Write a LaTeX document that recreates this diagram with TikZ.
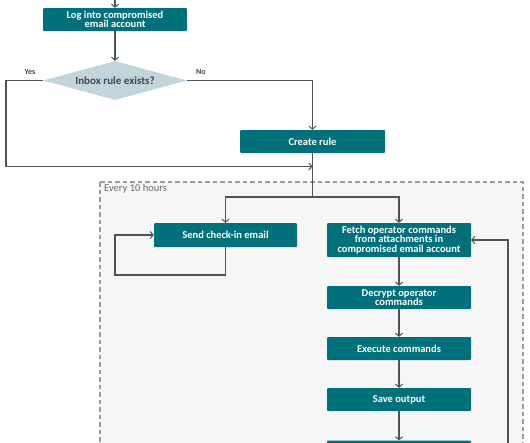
\documentclass[tikz,border=0pt]{standalone}
\usepackage{fontspec}
\setmainfont{Carlito}
\usetikzlibrary{arrows.meta,shapes.geometric}
\definecolor{teal1}{HTML}{00707A}
\definecolor{diafill}{HTML}{C3D5DC}
\definecolor{linec}{HTML}{4D5358}
\definecolor{dashc}{HTML}{9A9C9E}
\definecolor{bgc}{HTML}{F6F6F6}
\definecolor{txtc}{HTML}{3E474E}
\tikzset{
  stepbox/.style={draw=none, fill=teal1, rounded corners=1pt, text=white,
    font=\fontsize{10.5}{9.4}\selectfont\bfseries, align=center, inner sep=0pt,
    minimum width=144pt, minimum height=23pt},
  conn/.style={draw=linec, line width=1.1pt, -{Straight Barb[length=3pt,width=7pt,line width=1pt]}},
  plain/.style={draw=linec, line width=1.1pt},
  lbl/.style={font=\fontsize{8}{9}\selectfont\bfseries, text=txtc, inner sep=0pt}
}
\begin{document}
\begin{tikzpicture}[x=1pt,y=-1pt]
\useasboundingbox (0,0) rectangle (530,442);
\clip (0,0) rectangle (530,442);
% dashed region
\draw[fill=bgc, draw=dashc, line width=1.2pt, dash pattern=on 4.5pt off 3pt] (100,182) rectangle (523,470);
\node[anchor=north west, inner sep=0pt, text=gray!85!black, font=\fontsize{10.5}{12}\selectfont] (every) at (104,184.5) {Every 10 hours};
% nodes
\node[stepbox] (log) at (115,19.5) {Log into compromised\\email account};
\node[diamond, fill=diafill, minimum width=144pt, minimum height=39pt, inner sep=0pt, aspect=3.7,
  text=txtc, font=\fontsize{11}{12}\selectfont\bfseries] (dia) at (115,80.5) {Inbox rule exists?};
\node[stepbox, minimum width=145pt] (create) at (312.5,141.5) {Create rule};
\node[stepbox, minimum width=143pt, minimum height=24pt] (send) at (225.5,235) {Send check-in email};
\node[stepbox, minimum height=34pt] (fetch) at (399,240) {Fetch operator commands\\from attachments in\\compromised email account};
\node[stepbox] (decrypt) at (399,297.5) {Decrypt operator\\commands};
\node[stepbox] (exec) at (399,348.5) {Execute commands};
\node[stepbox] (save) at (399,399.5) {Save output};
\node[stepbox] (next) at (399,452) {};
% labels
\node[lbl] (yes) at (30,72) {Yes};
\node[lbl] (no) at (201,72) {No};
% coordinates
\coordinate (top) at (115,-2);
\coordinate (yl) at (6,80.5);
\coordinate (yb) at (6,166.5);
\coordinate (merge) at (312.5,166.5);
\coordinate (split) at (312.5,197);
\coordinate (lb) at (225.5,275);
\coordinate (ll) at (115,275);
\coordinate (lt) at (115,235);
\coordinate (fb) at (508,470);
\coordinate (ft) at (508,240);
% connectors
\draw[conn] (top) -- (log.north);
\draw[conn] (log.south) -- (dia.north);
\draw[conn] (dia.west) -- (yl) -- (yb) -- (merge);
\draw[conn] (dia.east) -| (create.north);
\draw[plain] (create.south) -- (split);
\draw[conn] (split) -| (send.north);
\draw[conn] (split) -| (fetch.north);
\draw[conn] (send.south) -- (lb) -- (ll) -- (lt) -- (send.west);
\draw[conn] (fb) -- (ft) -- (fetch.east);
\draw[conn] (fetch.south) -- (decrypt.north);
\draw[conn] (decrypt.south) -- (exec.north);
\draw[conn] (exec.south) -- (save.north);
\draw[conn] (save.south) -- (next.north);
\end{tikzpicture}
\end{document}
